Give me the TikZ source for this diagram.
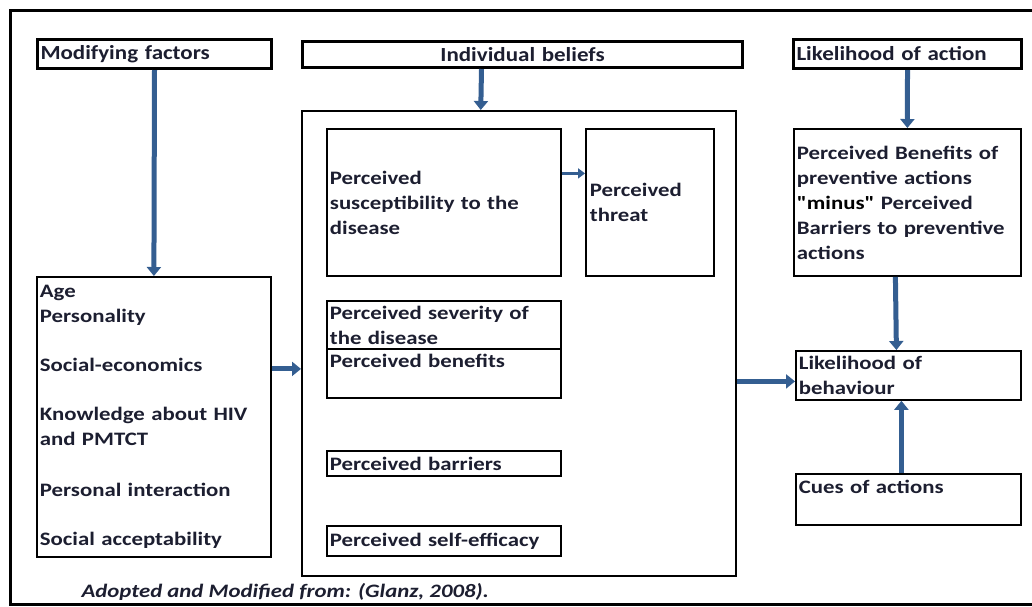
\documentclass[tikz,border=0pt]{standalone}
\usepackage{fontspec}
\setmainfont{Carlito}
\newfontfamily\widefont[FakeStretch=1.2]{Carlito}
\newfontfamily\headwide[FakeStretch=1.15]{Carlito}
\usetikzlibrary{arrows.meta, positioning, calc}
\definecolor{arrowblue}{RGB}{52,94,145}
\definecolor{inknavy}{RGB}{28,30,48}
\newcommand{\bodyfont}{\widefont\fontsize{19}{25}\selectfont\bfseries}
\newcommand{\headfont}{\headwide\fontsize{20}{22}\selectfont\bfseries}

\tikzset{
  header/.style={draw, line width=3pt, anchor=north west, inner sep=4pt, font=\headfont, text=inknavy},
  bigframe/.style={draw, line width=1.5pt, anchor=north west, inner sep=0pt},
  factbox/.style={draw, line width=1.8pt, anchor=north west, inner sep=4pt, align=left, font=\bodyfont, text=inknavy},
  arr/.style={arrowblue, line width=5pt, -{Triangle[width=14pt,length=9pt]}},
  smallarr/.style={arrowblue, line width=3.5pt, -{Triangle[width=10pt,length=7pt]}}
}

\begin{document}
\begin{tikzpicture}[x=1pt, y=-1pt]
\useasboundingbox (0,0) rectangle (1032,606);
% outer frame
\draw[line width=3pt] (1040,10) -- (10,10) -- (10,604) -- (1040,604);

% headers
\node[header, minimum width=234pt, minimum height=29pt, text width=228pt, inner xsep=3pt, align=left] (modf) at (36,38) {Modifying factors};
\node[header, minimum width=440pt, minimum height=26pt, text width=432pt, inner ysep=0pt, align=center] (beliefs) at (301,40) {Individual beliefs};
\node[header, minimum width=228pt, minimum height=29pt, text width=222pt, inner xsep=3pt, align=left] (action) at (792,38) {Likelihood of action};

% modifying factors
\node[factbox, minimum width=234pt, minimum height=280pt, text width=228pt, inner xsep=3pt] (factors) at (36,276)
  {Age\\Personality\\[24pt]Social-economics\\[24pt]Knowledge about HIV\\and PMTCT\\[26pt]Personal interaction\\[24pt]Social acceptability};

% individual beliefs
\node[bigframe, minimum width=434pt, minimum height=465pt] (bigbox) at (301,110) {};
\node[factbox, minimum width=234pt, minimum height=147pt, text width=228pt, inner xsep=3pt] (suscept) at (326,128)
  {Perceived\\susceptibility to the\\disease};
\node[factbox, minimum width=128pt, minimum height=147pt, text width=120pt] (threat) at (585,128)
  {Perceived\\threat};
\node[factbox, minimum width=234pt, minimum height=48pt, text width=228pt, inner xsep=3pt, inner ysep=0pt] (severity) at (326,300)
  {Perceived severity of\\the disease};
\node[factbox, minimum width=234pt, minimum height=49pt, text width=228pt, inner xsep=3pt, inner ysep=0pt] (benefits) at (326,348)
  {Perceived benefits\\\mbox{}};
\node[factbox, minimum width=234pt, minimum height=25pt, text width=228pt, inner xsep=3pt, inner ysep=0pt] (barriers) at (326,450)
  {Perceived barriers};
\node[factbox, minimum width=234pt, minimum height=30pt, text width=228pt, inner xsep=3pt, inner ysep=0pt] (efficacy) at (326,525)
  {Perceived self-efficacy};

% likelihood of action
\node[factbox, minimum width=227pt, minimum height=147pt, text width=221pt, inner xsep=3pt] (netben) at (793,128)
  {Perceived Benefits of\\preventive actions\\\textcolor{black}{"minus"} Perceived\\Barriers to preventive\\actions};
\node[factbox, minimum width=225pt, minimum height=49pt, text width=219pt, inner xsep=3pt, inner ysep=0pt] (behaviour) at (795,350)
  {Likelihood of\\behaviour};
\node[factbox, minimum width=225pt, minimum height=51pt, text width=219pt, inner xsep=3pt, inner ysep=0pt] (cues) at (795,473)
  {Cues of actions\\\mbox{}};

% caption
\node[font=\widefont\fontsize{19}{22}\selectfont\bfseries\itshape, text=inknavy, anchor=west] (source) at (78,592)
  {Adopted and Modified from: (Glanz, 2008).};

% arrows
\draw[arr] (modf.south) -- (factors.north);
\draw[arr] ([xshift=-41pt]beliefs.south) -- ([xshift=-38pt]bigbox.north);
\draw[arr] (action.south) -- (netben.north);
\coordinate (f1) at ([yshift=48pt]factors.east);
\draw[arr] (f1) -- (f1 -| bigbox.west);
\coordinate (s1) at ([yshift=29pt]suscept.east);
\draw[smallarr] (s1) -- (s1 -| threat.west);
\coordinate (b1) at ([yshift=-6pt]behaviour.west);
\draw[arr] (b1 -| bigbox.east) -- (b1);
\draw[arr] ([xshift=-12pt]netben.south) -- ([xshift=-12pt]behaviour.north);
\draw[arr] ([xshift=-7pt]cues.north) -- ([xshift=-7pt]behaviour.south);
\end{tikzpicture}
\end{document}
